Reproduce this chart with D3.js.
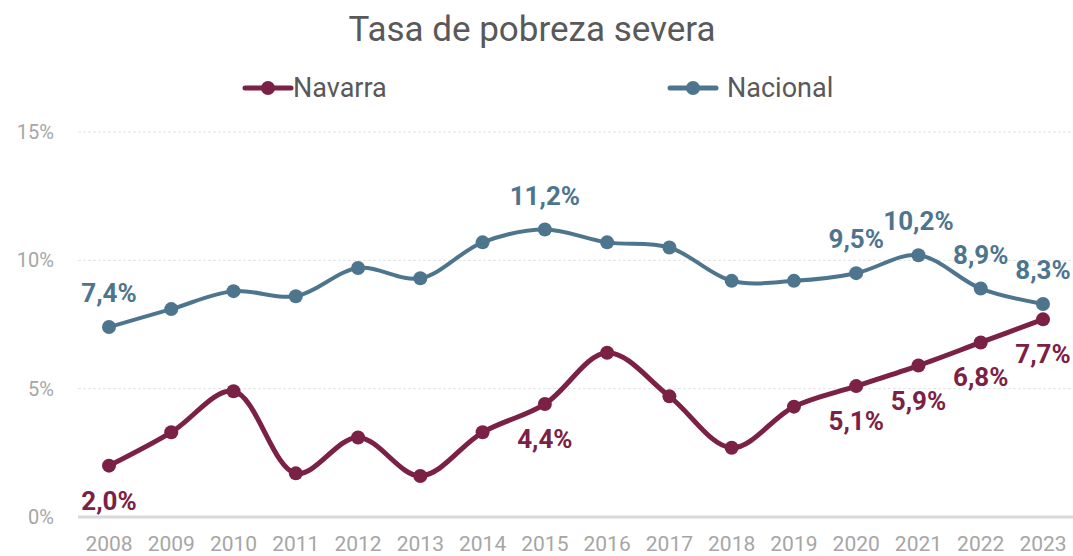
<!DOCTYPE html>
<html><head><meta charset="utf-8">
<script src="https://cdn.jsdelivr.net/npm/d3@7"></script>
<style>html,body{margin:0;padding:0;background:#fff;}svg{display:block;font-family:Roboto,"Noto Sans",sans-serif;}</style>
</head><body>
<svg id="c" width="1073" height="556"></svg>
<script>
const years = ["2008","2009","2010","2011","2012","2013","2014","2015","2016","2017","2018","2019","2020","2021","2022","2023"];
const navarra = [2.0,3.3,4.9,1.7,3.1,1.6,3.3,4.4,6.4,4.7,2.7,4.3,5.1,5.9,6.8,7.7];
const nacional = [7.4,8.1,8.8,8.6,9.7,9.3,10.7,11.2,10.7,10.5,9.2,9.2,9.5,10.2,8.9,8.3];
const labeledYears = ["2008","2015","2020","2021","2022","2023"];
const yTicks = [0,5,10,15];
const title = "Tasa de pobreza severa";

const svg = d3.select("#c");
const x = d3.scalePoint().domain(years).range([109,1043]);
const y = d3.scaleLinear().domain([0,15]).range([517,132]);
const fmt = v => d3.format(".1f")(v).replace(".", ",") + "%";

svg.append("g").selectAll("line").data(yTicks.filter(d=>d>0)).join("line")
  .attr("x1",78).attr("x2",1073).attr("y1",d=>y(d)).attr("y2",d=>y(d))
  .attr("stroke","#e3e3e3").attr("stroke-width",1).attr("stroke-dasharray","3,2");
svg.append("line").attr("x1",78).attr("x2",1073).attr("y1",y(0)).attr("y2",y(0))
  .attr("stroke","#d9d9d9").attr("stroke-width",3);

svg.append("g").selectAll("text").data(yTicks).join("text")
  .attr("x",54).attr("y",d=>y(d)+7).attr("text-anchor","end")
  .attr("font-size",20).attr("fill","#a6a6a6").text(d=>d+"%");
svg.append("g").selectAll("text").data(years).join("text")
  .attr("x",d=>x(d)).attr("y",551).attr("text-anchor","middle")
  .attr("font-size",21).attr("fill","#a6a6a6").text(d=>d);

svg.append("text").attr("x",532).attr("y",41).attr("text-anchor","middle")
  .attr("font-size",35).attr("fill","#595959").text(title);

const series = [
  {name:"Navarra", values:navarra, color:"#7b2146", width:5, pos:"below"},
  {name:"Nacional", values:nacional, color:"#4e758e", width:4, pos:"above"}
];
const line = d3.line().x((d,i)=>x(years[i])).y(d=>y(d)).curve(d3.curveCatmullRom.alpha(0.5));

series.slice().reverse().forEach(s=>{
  const g = svg.append("g");
  g.append("path").attr("d",line(s.values)).attr("fill","none")
    .attr("stroke",s.color).attr("stroke-width",s.width).attr("stroke-linecap","round");
  g.selectAll("circle").data(s.values).join("circle")
    .attr("cx",(d,i)=>x(years[i])).attr("cy",d=>y(d)).attr("r",7).attr("fill",s.color);
  g.selectAll("text").data(s.values.map((v,i)=>({v,yr:years[i]})).filter(d=>labeledYears.includes(d.yr))).join("text")
    .attr("x",d=>x(d.yr)).attr("y",d=>y(d.v)+(s.pos==="below"?44:-25))
    .attr("text-anchor","middle").attr("font-size",26).attr("font-weight","bold")
    .attr("fill",s.color).text(d=>fmt(d.v));
});

const leg = [{s:series[0], x0:245, tx:293},{s:series[1], x0:670, tx:727}];
leg.forEach(l=>{
  const g = svg.append("g");
  g.append("line").attr("x1",l.x0).attr("x2",l.x0+46).attr("y1",88).attr("y2",88)
    .attr("stroke",l.s.color).attr("stroke-width",5).attr("stroke-linecap","round");
  g.append("circle").attr("cx",l.x0+23).attr("cy",88).attr("r",7).attr("fill",l.s.color);
  g.append("text").attr("x",l.tx).attr("y",97).attr("font-size",27).attr("fill","#595959").text(l.s.name);
});
</script>
</body></html>
